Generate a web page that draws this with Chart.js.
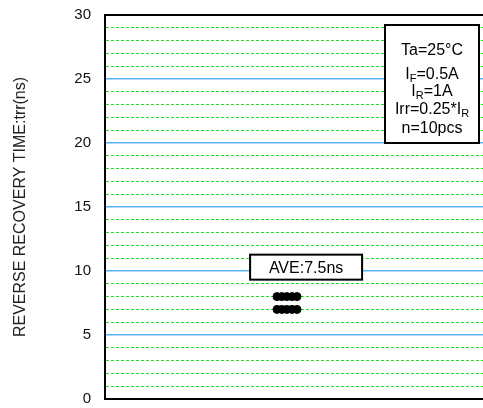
<!DOCTYPE html>
<html>
  <head>
    <meta charset="utf-8" />
    <title>Reverse recovery time</title>
    <script src="https://cdn.jsdelivr.net/npm/chart.js@4.4.1/dist/chart.umd.min.js"></script>
    <style>
      html, body { margin: 0; padding: 0; background: #fff; }
      #wrap { width: 483px; height: 408px; }
    </style>
    <script>
      // measured samples (10 pcs), x is just the spread of the dots
      var samplePos = [45.5, 46.8, 48.1, 49.5, 50.8, 45.5, 46.8, 48.1, 49.5, 50.8];
      var trrValues = [8, 8, 8, 8, 8, 7, 7, 7, 7, 7];

      var yMin = 0, yMax = 30, yStep = 1, yMajor = 5;
      var yTitle = "REVERSE RECOVERY TIME:trr(ns)";

      var aveLabel = "AVE:7.5ns";
      var avePos = { x: 53.2, y: 10.3 };

      // condition lines: [main text, subscript, tail text]
      var condLines = [
        ["Ta=25°C"],
        ["I", "F", "=0.5A"],
        ["I", "R", "=1A"],
        ["Irr=0.25*I", "R", ""],
        ["n=10pcs"],
      ];
    </script>
  </head>
  <body>
    <div id="wrap"><canvas id="c" width="483" height="408"></canvas></div>
    <script>
      var FONT = "'Liberation Sans', Arial, sans-serif";

      function drawLine(ctx, parts, cx, cy) {
        var big = "16px " + FONT, small = "11px " + FONT;
        var w = 0;
        ctx.font = big; w += ctx.measureText(parts[0]).width;
        if (parts.length > 1) {
          ctx.font = small; w += ctx.measureText(parts[1]).width;
          ctx.font = big; w += ctx.measureText(parts[2]).width;
        }
        var x = cx - w / 2;
        ctx.textAlign = "left";
        ctx.textBaseline = "alphabetic";
        ctx.fillStyle = "#000";
        ctx.font = big;
        ctx.fillText(parts[0], x, cy + 6);
        x += ctx.measureText(parts[0]).width;
        if (parts.length > 1) {
          ctx.font = small;
          ctx.fillText(parts[1], x, cy + 9);
          x += ctx.measureText(parts[1]).width;
          ctx.font = big;
          ctx.fillText(parts[2], x, cy + 6);
        }
      }

      var notes = {
        id: "notes",
        afterDraw: function (chart) {
          var ctx = chart.ctx;
          var xs = chart.scales.x, ys = chart.scales.y;
          var area = chart.chartArea;
          ctx.save();

          // AVE box
          var ax = xs.getPixelForValue(avePos.x);
          var ay = ys.getPixelForValue(avePos.y);
          ctx.fillStyle = "#fff";
          ctx.fillRect(ax - 56, ay - 12.5, 112, 25);
          ctx.strokeStyle = "#000";
          ctx.lineWidth = 2;
          ctx.strokeRect(ax - 56, ay - 12.5, 112, 25);
          ctx.fillStyle = "#000";
          ctx.font = "16px " + FONT;
          ctx.textAlign = "center";
          ctx.textBaseline = "middle";
          ctx.fillText(aveLabel, ax, ay + 1);

          // condition box
          var bx = area.right - 98, by = area.top + 10, bw = 94, bh = 118;
          ctx.fillStyle = "#fff";
          ctx.fillRect(bx, by, bw, bh);
          ctx.strokeRect(bx, by, bw, bh);
          var rowsY = [24, 48, 65, 83, 102];
          for (var i = 0; i < condLines.length; i++) {
            drawLine(ctx, condLines[i], bx + bw / 2, by + rowsY[i]);
          }
          ctx.restore();
        },
      };

      var points = samplePos.map(function (x, i) {
        return { x: x, y: trrValues[i] };
      });

      new Chart(document.getElementById("c"), {
        type: "scatter",
        data: {
          datasets: [
            {
              data: points,
              backgroundColor: "#000",
              borderColor: "#000",
              pointRadius: 4,
              pointHoverRadius: 4,
              clip: false,
            },
          ],
        },
        options: {
          responsive: false,
          animation: false,
          events: [],
          layout: { autoPadding: false, padding: { top: 15, right: 0, bottom: 9, left: 0 } },
          plugins: { legend: { display: false }, tooltip: { enabled: false } },
          scales: {
            x: {
              type: "linear",
              min: 0,
              max: 100,
              ticks: { display: false },
              grid: { display: false, drawTicks: false },
              border: { display: true, color: "#000", width: 2 },
              afterFit: function (s) {
                s.height = 0;
                s.paddingLeft = s.paddingRight = 0;
              },
            },
            y: {
              min: yMin,
              max: yMax,
              ticks: {
                stepSize: yStep,
                autoSkip: false,
                padding: 14,
                color: "#111",
                font: { family: FONT, size: 15 },
                callback: function (v) {
                  return v % yMajor === 0 ? String(v) : "";
                },
              },
              grid: {
                drawTicks: false,
                color: function (c) {
                  var v = c.tick ? c.tick.value : 0;
                  if (v === yMin || v === yMax) return "#000";
                  return v % yMajor === 0 ? "#5ab4f5" : "#22e022";
                },
                lineWidth: function (c) {
                  var v = c.tick ? c.tick.value : 0;
                  if (v === yMin || v === yMax) return 2;
                  return v % yMajor === 0 ? 1.6 : 1;
                },
              },
              border: {
                display: true,
                color: "#000",
                width: 2,
                dash: function (c) {
                  if (!c.tick) return [];
                  return c.tick.value % yMajor === 0 ? [] : [3, 2];
                },
              },
              title: {
                display: true,
                text: yTitle,
                color: "#222",
                font: { family: FONT, size: 16 },
                padding: { top: 11, bottom: 0 },
              },
              afterFit: function (s) {
                s.width = 105;
                s.paddingTop = s.paddingBottom = 0;
              },
            },
          },
        },
        plugins: [notes],
      });
    </script>
  </body>
</html>
